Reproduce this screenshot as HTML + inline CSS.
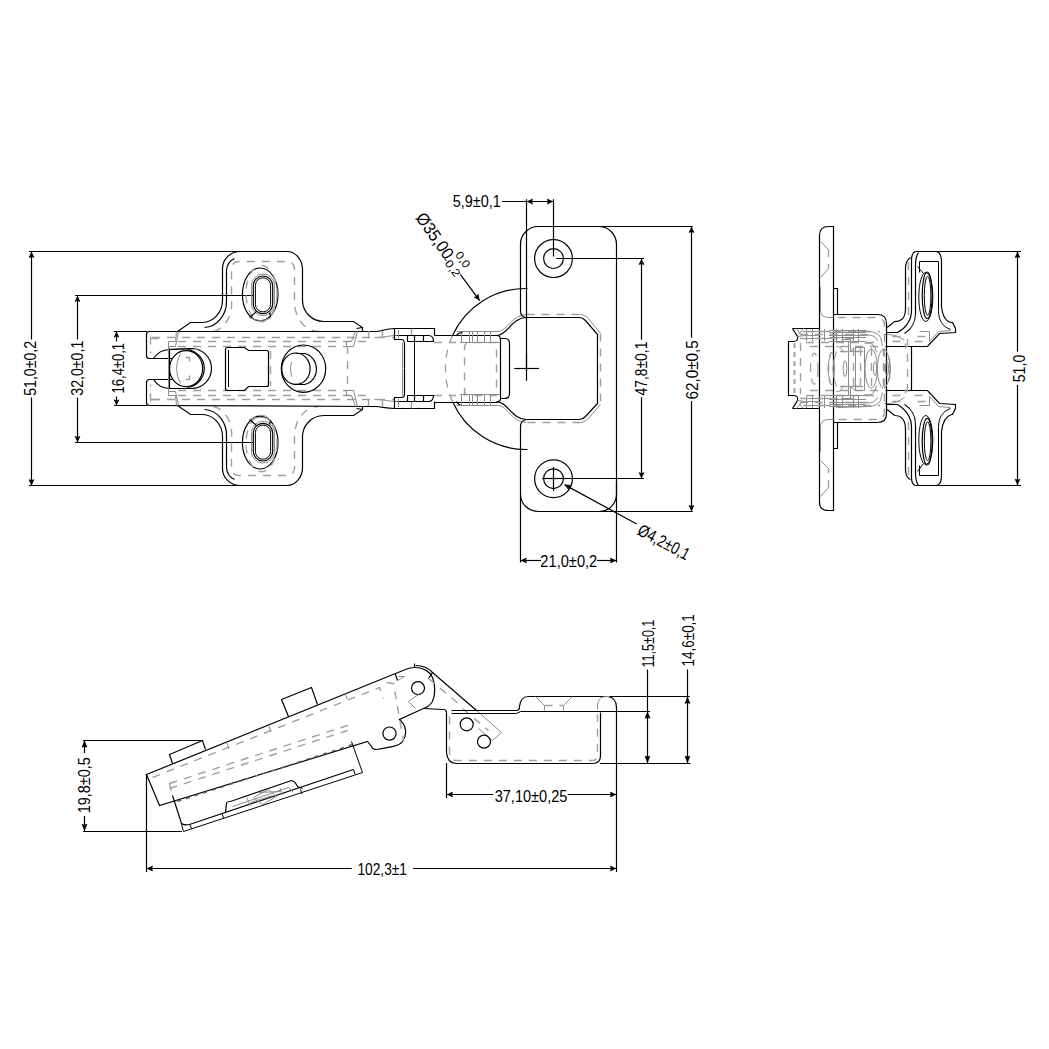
<!DOCTYPE html>
<html><head><meta charset="utf-8"><style>
html,body{margin:0;padding:0;background:#fff;overflow:hidden;}
svg{display:block;}
.d,.k{stroke:#000;stroke-width:1.2;fill:none;}
.k2{stroke:#000;stroke-width:1;fill:none;}
.g{stroke:#a0a0a0;stroke-width:1.4;fill:none;stroke-dasharray:8 7;}
.gs{stroke:#8c8c8c;stroke-width:1;fill:none;}
.ar{fill:#000;stroke:#000;stroke-width:0.7;stroke-linejoin:miter;}
.gd{stroke:#666;stroke-width:1.4;fill:none;stroke-dasharray:4 5;}
.gt{stroke:#aaa;stroke-width:2.2;fill:none;stroke-dasharray:5 4;}
.gsl{stroke:#bbb;stroke-width:1;fill:none;}
text{font-family:"Liberation Sans",sans-serif;fill:#000;}
</style></head><body>
<svg width="1049" height="1049" viewBox="0 0 1049 1049">
<rect width="1049" height="1049" fill="#fff"/>
<line x1="29.0" y1="251.5" x2="240.0" y2="251.5" class="d"/>
<line x1="29.0" y1="485.5" x2="240.0" y2="485.5" class="d"/>
<line x1="31.5" y1="251.5" x2="31.5" y2="339.5" class="d"/>
<line x1="31.5" y1="397.5" x2="31.5" y2="485.7" class="d"/>
<path d="M31.5,252.5L33.9,257.5L31.5,256.6L29.1,257.5Z" class="ar"/>
<path d="M31.5,484.7L29.1,479.7L31.5,480.6L33.9,479.7Z" class="ar"/>
<g transform="translate(29.6,368.4) rotate(-90)"><text x="0" y="6.19" text-anchor="middle" textLength="54.9" lengthAdjust="spacingAndGlyphs" font-size="17.2">51,0±0,2</text></g>
<line x1="75.0" y1="295.5" x2="253.3" y2="295.5" class="d"/>
<line x1="75.0" y1="442.5" x2="253.3" y2="442.5" class="d"/>
<line x1="77.5" y1="295.3" x2="77.5" y2="339.5" class="d"/>
<line x1="77.5" y1="397.5" x2="77.5" y2="442.5" class="d"/>
<path d="M77.5,296.5L79.9,301.5L77.5,300.6L75.1,301.5Z" class="ar"/>
<path d="M77.5,441.5L75.1,436.5L77.5,437.4L79.9,436.5Z" class="ar"/>
<g transform="translate(76.9,368.2) rotate(-90)"><text x="0" y="6.19" text-anchor="middle" textLength="54.9" lengthAdjust="spacingAndGlyphs" font-size="17.2">32,0±0,1</text></g>
<line x1="114.0" y1="331.5" x2="147.0" y2="331.5" class="d"/>
<line x1="114.0" y1="405.5" x2="147.0" y2="405.5" class="d"/>
<line x1="116.5" y1="331.2" x2="116.5" y2="341.5" class="d"/>
<line x1="116.5" y1="396.5" x2="116.5" y2="405.5" class="d"/>
<path d="M116.5,332.5L118.8,337.1L116.5,336.2L114.2,337.1Z" class="ar"/>
<path d="M116.5,404.5L114.2,399.9L116.5,400.8L118.8,399.9Z" class="ar"/>
<g transform="translate(117.5,368.2) rotate(-90)"><text x="0" y="6.19" text-anchor="middle" textLength="50.4" lengthAdjust="spacingAndGlyphs" font-size="17.2">16,4±0,1</text></g>
<path d="M 177.5,331.5 L 190.5,322.5 L 202.5,322.5 A 20.40,22.40 0 0 0 222.5,300.5 L 222.5,268.5 A 17.60,17.00 0 0 1 240.5,251.5 L 286.5,251.5 A 15.50,18.00 0 0 1 302.5,269.5 L 302.5,300.5 A 21.20,21.30 0 0 0 323.5,321.5 L 353.5,321.5 L 362.5,327.5 L 362.5,331.5 M 356.5,328.5 L 362.5,327.5" class="k"/>
<path d="M 204.5,327.5 A 23.00,26.00 0 0 0 226.5,300.5 L 226.5,270.5 A 13.00,14.00 0 0 1 234.5,258.5" class="k"/>
<path d="M 213.5,331.5 A 22.00,28.00 0 0 0 231.5,300.5 L 231.5,268.5 A 7.00,7.00 0 0 1 238.5,261.5 L 287.5,261.5 A 7.00,7.00 0 0 1 294.5,268.5 L 294.5,300.5 A 24.00,30.00 0 0 0 318.5,331.5" class="g"/>
<ellipse cx="260.2" cy="294.4" rx="17.8" ry="26.4" class="k"/>
<ellipse cx="261.5" cy="293.5" rx="15.5" ry="28.2" class="g"/>
<rect x="253.3" y="276.0" width="19.4" height="37.7" rx="9.7" class="k"/>
<rect x="255.4" y="277.8" width="15.2" height="34.1" rx="7.6" class="k2"/>
<rect x="251.5" y="274.0" width="23" height="41.7" rx="11.5" class="gs"/>
<path d="M 256.5,311.5 L 249.5,317.5 M 269.5,312.5 L 270.5,316.5" class="k"/>
<path d="M 249.5,317.5 Q 260.5,323.5 271.5,317.5" class="gs"/>
<path d="M 177.5,405.5 L 190.5,414.5 L 202.5,414.5 A 20.40,22.40 0 0 1 222.5,437.5 L 222.5,468.5 A 17.60,17.00 0 0 0 240.5,485.5 L 286.5,485.5 A 15.50,18.00 0 0 0 302.5,467.5 L 302.5,436.5 A 21.20,21.30 0 0 1 323.5,415.5 L 353.5,415.5 L 362.5,409.5 L 362.5,406.5 M 356.5,408.5 L 362.5,409.5" class="k"/>
<path d="M 204.5,409.5 A 23.00,26.00 0 0 1 226.5,437.5 L 226.5,467.5 A 13.00,14.00 0 0 0 234.5,479.5" class="k"/>
<path d="M 213.5,406.5 A 22.00,28.00 0 0 1 231.5,437.5 L 231.5,469.5 A 7.00,7.00 0 0 0 238.5,475.5 L 287.5,475.5 A 7.00,7.00 0 0 0 294.5,468.5 L 294.5,437.5 A 24.00,30.00 0 0 1 318.5,406.5" class="g"/>
<ellipse cx="260.2" cy="442.6" rx="17.8" ry="26.4" class="k"/>
<ellipse cx="261.5" cy="443.5" rx="15.5" ry="28.2" class="g"/>
<rect x="253.3" y="423.3" width="19.4" height="37.7" rx="9.7" class="k"/>
<rect x="255.4" y="425.1" width="15.2" height="34.1" rx="7.6" class="k2"/>
<rect x="251.5" y="421.3" width="23" height="41.7" rx="11.5" class="gs"/>
<path d="M 256.5,425.5 L 249.5,419.5 M 269.5,424.5 L 270.5,420.5" class="k"/>
<path d="M 249.5,419.5 Q 260.5,414.5 271.5,420.5" class="gs"/>
<path d="M 394.5,328.5 C 385.5,328.5 381.5,331.5 375.5,331.5 L 149.5,331.5 Q 146.5,331.5 146.5,334.5 L 146.5,355.5 Q 146.5,358.5 149.5,358.5 L 172.5,358.5" class="k"/>
<path d="M 374.5,337.5 C 385.5,337.5 388.5,335.5 396.5,335.5" class="gs"/>
<path d="M 153.5,358.5 A 19.70,19.70 0 0 1 169.5,349.5 L 193.5,348.5" class="k"/>
<line x1="152.0" y1="337.5" x2="395.0" y2="337.5" class="g"/>
<line x1="178.0" y1="341.5" x2="372.0" y2="341.5" class="g"/>
<line x1="178.0" y1="346.5" x2="347.0" y2="346.5" class="g"/>
<path d="M 150.5,336.5 L 150.5,353.5 M 150.5,338.5 L 158.5,338.5" class="g"/>
<path d="M 176.5,331.5 L 175.5,341.5 L 168.5,341.5 L 168.5,346.5 L 175.5,346.5 L 178.5,331.5" class="gs"/>
<path d="M 346.5,341.5 L 346.5,346.5 L 353.5,346.5 L 357.5,331.5" class="gs"/>
<path d="M 346.5,341.5 L 351.5,341.5 L 355.5,331.5" class="gs"/>
<line x1="368.5" y1="331.0" x2="368.5" y2="338.0" class="g"/>
<line x1="382.5" y1="331.0" x2="382.5" y2="338.0" class="g"/>
<path d="M 394.5,408.5 C 385.5,408.5 381.5,406.5 375.5,406.5 L 149.5,405.5 Q 146.5,405.5 146.5,402.5 L 146.5,382.5 Q 146.5,379.5 149.5,379.5 L 172.5,379.5" class="k"/>
<path d="M 374.5,399.5 C 385.5,399.5 388.5,401.5 396.5,401.5" class="gs"/>
<path d="M 153.5,379.5 A 19.70,19.70 0 0 0 169.5,388.5 L 193.5,388.5" class="k"/>
<line x1="152.0" y1="399.5" x2="395.0" y2="399.5" class="g"/>
<line x1="178.0" y1="395.5" x2="372.0" y2="395.5" class="g"/>
<line x1="178.0" y1="390.5" x2="347.0" y2="390.5" class="g"/>
<path d="M 150.5,401.5 L 150.5,384.5 M 150.5,399.5 L 158.5,399.5" class="g"/>
<path d="M 176.5,405.5 L 175.5,395.5 L 168.5,395.5 L 168.5,391.5 L 175.5,391.5 L 178.5,405.5" class="gs"/>
<path d="M 346.5,395.5 L 346.5,390.5 L 353.5,390.5 L 357.5,406.5" class="gs"/>
<path d="M 346.5,395.5 L 351.5,395.5 L 355.5,406.5" class="gs"/>
<line x1="368.5" y1="406.0" x2="368.5" y2="399.0" class="g"/>
<line x1="382.5" y1="406.0" x2="382.5" y2="399.0" class="g"/>
<path d="M 169.5,349.5 L 191.5,348.5 A 19.85,19.85 0 0 1 191.5,388.5 L 169.5,388.5" class="k"/>
<path d="M 187.5,349.5 A 19.60,19.20 0 0 1 187.5,387.5" class="k"/>
<ellipse cx="186.1" cy="368.6" rx="16.6" ry="18.0" class="k"/>
<line x1="169.5" y1="348.3" x2="169.5" y2="389.0" class="k"/>
<path d="M 180.5,353.5 Q 172.5,368.5 180.5,383.5" class="gs"/>
<path d="M 185.5,357.5 L 189.5,357.5 L 189.5,364.5 M 185.5,379.5 L 189.5,379.5 L 189.5,372.5" class="g"/>
<line x1="168.5" y1="346.0" x2="168.5" y2="391.0" class="gs"/>
<path d="M 225.5,349.5 Q 225.5,347.5 227.5,347.5 L 244.5,347.5 L 248.5,350.5 L 266.5,350.5 Q 268.5,350.5 268.5,352.5 L 268.5,384.5 Q 268.5,386.5 266.5,386.5 L 248.5,386.5 L 244.5,390.5 L 227.5,390.5 Q 225.5,390.5 225.5,388.5 Z" class="k"/>
<line x1="228.5" y1="350.0" x2="228.5" y2="387.0" class="k2"/>
<line x1="270.5" y1="351.0" x2="270.5" y2="386.0" class="g"/>
<ellipse cx="303.5" cy="368.7" rx="22.2" ry="23.7" class="k"/>
<ellipse cx="295.9" cy="368.7" rx="14.2" ry="15.7" class="k"/>
<path d="M 295.5,353.5 L 304.5,353.5 A 14.20,15.70 0 0 1 304.5,384.5 L 295.5,384.5" class="k"/>
<path d="M 291.5,376.5 A 10.00,17.00 0 0 1 291.5,361.5" class="gs"/>
<line x1="347.5" y1="346.0" x2="347.5" y2="391.0" class="g"/>
<path d="M 394.5,328.5 L 434.5,328.5 L 434.5,335.5" class="k"/>
<path d="M 396.5,335.5 L 428.5,335.5 Q 433.5,335.5 433.5,341.5 L 407.5,341.5" class="k"/>
<line x1="407.5" y1="335.5" x2="407.5" y2="341.9" class="k"/>
<line x1="414.5" y1="335.5" x2="414.5" y2="341.9" class="k"/>
<line x1="423.5" y1="335.5" x2="423.5" y2="341.9" class="k"/>
<path d="M 394.5,328.5 L 394.5,339.5 L 401.5,339.5 Q 404.5,339.5 404.5,344.5 L 404.5,368.5" class="k"/>
<path d="M 402.5,342.5 L 402.5,368.5" class="gs"/>
<line x1="411.5" y1="328.6" x2="411.5" y2="335.0" class="g"/>
<line x1="398.5" y1="330.0" x2="398.5" y2="338.5" class="gs"/>
<path d="M 394.5,408.5 L 434.5,408.5 L 434.5,401.5" class="k"/>
<path d="M 396.5,401.5 L 428.5,401.5 Q 433.5,401.5 433.5,395.5 L 407.5,395.5" class="k"/>
<line x1="407.5" y1="401.5" x2="407.5" y2="395.1" class="k"/>
<line x1="414.5" y1="401.5" x2="414.5" y2="395.1" class="k"/>
<line x1="423.5" y1="401.5" x2="423.5" y2="395.1" class="k"/>
<path d="M 394.5,408.5 L 394.5,397.5 L 401.5,397.5 Q 404.5,397.5 404.5,393.5 L 404.5,368.5" class="k"/>
<path d="M 402.5,395.5 L 402.5,368.5" class="gs"/>
<line x1="411.5" y1="408.4" x2="411.5" y2="402.0" class="g"/>
<line x1="398.5" y1="407.0" x2="398.5" y2="398.5" class="gs"/>
<line x1="414.5" y1="341.9" x2="414.5" y2="395.3" class="k2"/>
<line x1="434.0" y1="342.5" x2="456.0" y2="342.5" class="g"/>
<line x1="434.0" y1="395.5" x2="456.0" y2="395.5" class="g"/>
<path d="M 434.5,335.5 L 496.5,335.5 Q 500.5,335.5 500.5,339.5 L 500.5,398.5 Q 500.5,401.5 496.5,402.5 L 434.5,402.5" class="k"/>
<path d="M 500.5,338.5 L 504.5,338.5 Q 509.5,338.5 509.5,343.5 L 509.5,393.5 Q 509.5,398.5 504.5,398.5 L 500.5,398.5" class="k"/>
<path d="M 464.5,395.5 L 464.5,347.5 Q 464.5,342.5 469.5,342.5 L 496.5,342.5 L 496.5,395.5 L 469.5,395.5 Q 464.5,395.5 464.5,390.5" class="g"/>
<line x1="461.5" y1="331.4" x2="461.5" y2="342.4" class="gs"/>
<line x1="461.5" y1="405.6" x2="461.5" y2="394.6" class="gs"/>
<line x1="469.5" y1="331.4" x2="469.5" y2="342.4" class="gs"/>
<line x1="469.5" y1="405.6" x2="469.5" y2="394.6" class="gs"/>
<line x1="472.5" y1="331.4" x2="472.5" y2="342.4" class="gs"/>
<line x1="472.5" y1="405.6" x2="472.5" y2="394.6" class="gs"/>
<line x1="477.5" y1="331.4" x2="477.5" y2="342.4" class="gs"/>
<line x1="477.5" y1="405.6" x2="477.5" y2="394.6" class="gs"/>
<line x1="484.5" y1="331.4" x2="484.5" y2="342.4" class="gs"/>
<line x1="484.5" y1="405.6" x2="484.5" y2="394.6" class="gs"/>
<line x1="490.5" y1="331.4" x2="490.5" y2="342.4" class="gs"/>
<line x1="490.5" y1="405.6" x2="490.5" y2="394.6" class="gs"/>
<line x1="460.0" y1="342.5" x2="500.0" y2="342.5" class="gs"/>
<line x1="460.0" y1="394.5" x2="500.0" y2="394.5" class="gs"/>
<path d="M 527.5,288.5 A 80.50,80.50 0 0 0 452.5,335.5" class="k"/>
<path d="M 527.5,449.5 A 80.50,80.50 0 0 1 452.5,401.5" class="k"/>
<path d="M 452.5,335.5 A 80.50,80.50 0 0 0 452.5,401.5" class="g"/>
<path d="M 456.5,335.5 Q 458.5,332.5 462.5,332.5" class="k"/>
<path d="M 496.5,335.5 C 507.5,335.5 511.5,317.5 526.5,317.5" class="k"/>
<path d="M 456.5,331.5 L 498.5,331.5 C 506.5,331.5 512.5,314.5 526.5,314.5" class="gs"/>
<path d="M 456.5,401.5 Q 458.5,405.5 462.5,405.5" class="k"/>
<path d="M 496.5,401.5 C 507.5,401.5 511.5,419.5 526.5,419.5" class="k"/>
<path d="M 456.5,405.5 L 498.5,405.5 C 506.5,405.5 512.5,422.5 526.5,422.5" class="gs"/>
<path d="M 526.5,317.5 Q 520.5,317.5 520.5,310.5 L 520.5,244.5 A 18.00,17.80 0 0 1 538.5,226.5 L 599.5,226.5 A 17.70,18.00 0 0 1 616.5,244.5 L 616.5,494.5 A 17.00,17.50 0 0 1 599.5,511.5 L 538.5,511.5 A 18.00,17.00 0 0 1 520.5,494.5 L 520.5,426.5 Q 520.5,420.5 526.5,419.5" class="k"/>
<path d="M 526.5,317.5 L 579.5,317.5 Q 582.5,317.5 585.5,320.5 L 597.5,334.5 L 597.5,403.5 L 585.5,416.5 Q 582.5,419.5 579.5,419.5 L 526.5,419.5" class="k"/>
<path d="M 526.5,314.5 L 580.5,314.5 M 600.5,333.5 L 600.5,404.5 M 580.5,422.5 L 526.5,422.5" class="g"/>
<path d="M 580.5,314.5 Q 584.5,314.5 587.5,317.5 L 600.5,333.5 M 600.5,404.5 L 587.5,419.5 Q 584.5,422.5 580.5,422.5" class="gs"/>
<circle cx="553.5" cy="258.6" r="18.9" class="k"/>
<circle cx="553.5" cy="258.6" r="9.9" class="k"/>
<circle cx="553.5" cy="478.7" r="18.9" class="k"/>
<circle cx="553.5" cy="478.7" r="9.9" class="k"/>
<line x1="542.1" y1="478.5" x2="566.0" y2="478.5" class="d"/>
<line x1="553.5" y1="467.0" x2="553.5" y2="490.8" class="d"/>
<line x1="514.3" y1="368.5" x2="539.0" y2="368.5" class="d"/>
<line x1="526.5" y1="355.0" x2="526.5" y2="380.8" class="d"/>
<line x1="502.0" y1="201.5" x2="553.4" y2="201.5" class="d"/>
<path d="M527.5,201.5L532.5,199.1L531.6,201.5L532.5,203.9Z" class="ar"/>
<path d="M552.4,201.5L547.4,203.9L548.3,201.5L547.4,199.1Z" class="ar"/>
<line x1="526.5" y1="199.2" x2="526.5" y2="368.4" class="d"/>
<line x1="553.5" y1="199.2" x2="553.5" y2="256.5" class="d"/>
<g transform="translate(476.7,200.6) rotate(0)"><text x="0" y="6.19" text-anchor="middle" textLength="48.0" lengthAdjust="spacingAndGlyphs" font-size="17.2">5,9±0,1</text></g>
<line x1="589.0" y1="226.5" x2="692.9" y2="226.5" class="d"/>
<line x1="590.0" y1="511.5" x2="692.8" y2="511.5" class="d"/>
<line x1="691.5" y1="226.4" x2="691.5" y2="337.6" class="d"/>
<line x1="691.5" y1="401.0" x2="691.5" y2="511.5" class="d"/>
<path d="M691.5,227.4L693.9,232.4L691.5,231.5L689.1,232.4Z" class="ar"/>
<path d="M691.5,510.5L689.1,505.5L691.5,506.4L693.9,505.5Z" class="ar"/>
<g transform="translate(691.8,369.8) rotate(-90)"><text x="0" y="6.19" text-anchor="middle" textLength="59.2" lengthAdjust="spacingAndGlyphs" font-size="17.2">62,0±0,5</text></g>
<line x1="556.4" y1="258.5" x2="644.0" y2="258.5" class="d"/>
<line x1="556.0" y1="478.5" x2="644.0" y2="478.5" class="d"/>
<line x1="641.5" y1="258.5" x2="641.5" y2="339.8" class="d"/>
<line x1="641.5" y1="397.2" x2="641.5" y2="478.7" class="d"/>
<path d="M641.5,259.5L643.9,264.5L641.5,263.6L639.1,264.5Z" class="ar"/>
<path d="M641.5,477.7L639.1,472.7L641.5,473.6L643.9,472.7Z" class="ar"/>
<g transform="translate(641.0,368.6) rotate(-90)"><text x="0" y="6.19" text-anchor="middle" textLength="53.9" lengthAdjust="spacingAndGlyphs" font-size="17.2">47,8±0,1</text></g>
<line x1="520.5" y1="494.5" x2="520.5" y2="562.5" class="d"/>
<line x1="616.5" y1="482.0" x2="616.5" y2="562.5" class="d"/>
<line x1="520.4" y1="560.5" x2="541.0" y2="560.5" class="d"/>
<line x1="597.0" y1="560.5" x2="616.4" y2="560.5" class="d"/>
<path d="M521.4,560.5L526.4,558.1L525.5,560.5L526.4,562.9Z" class="ar"/>
<path d="M615.4,560.5L610.4,562.9L611.3,560.5L610.4,558.1Z" class="ar"/>
<g transform="translate(568.8,560.5) rotate(0)"><text x="0" y="6.19" text-anchor="middle" textLength="56.9" lengthAdjust="spacingAndGlyphs" font-size="17.2">21,0±0,2</text></g>
<line x1="564.4" y1="484.6" x2="636.7" y2="524.0" class="d"/>
<path d="M565.3,485.1L570.8,485.4L568.9,487.0L568.5,489.6Z" class="ar"/>
<g transform="translate(664.0,541.8) rotate(28)"><text x="0" y="6.19" text-anchor="middle" textLength="56.4" lengthAdjust="spacingAndGlyphs" font-size="17.2">Ø4,2±0,1</text></g>
<line x1="460.3" y1="274.4" x2="479.7" y2="300.6" class="d"/>
<path d="M479.1,299.8L474.2,297.2L476.7,296.5L478.1,294.3Z" class="ar"/>
<g transform="translate(435.2,235.6) rotate(55)"><text x="0" y="6.19" text-anchor="middle" textLength="52.4" lengthAdjust="spacingAndGlyphs" font-size="17.2">Ø35,00</text></g>
<g transform="translate(463.0,259.5) rotate(54)"><text x="0" y="3.96" text-anchor="middle" textLength="17.5" lengthAdjust="spacingAndGlyphs" font-size="11">0,0</text></g>
<g transform="translate(451.5,266.5) rotate(54)"><text x="0" y="3.96" text-anchor="middle" textLength="22.5" lengthAdjust="spacingAndGlyphs" font-size="11">-0,2</text></g>
<path d="M 833.5,226.5 L 828.5,226.5 Q 819.5,226.5 819.5,235.5 L 819.5,502.5 Q 819.5,510.5 828.5,510.5 L 833.5,510.5 Z" class="k"/>
<path d="M 833.5,288.5 L 837.5,288.5 L 837.5,314.5" class="k"/>
<path d="M 820.5,241.5 L 828.5,249.5 M 828.5,268.5 L 820.5,277.5" class="gs"/>
<line x1="828.5" y1="249.1" x2="828.5" y2="268.3" class="g"/>
<path d="M 820.5,286.5 L 820.5,311.5 Q 821.5,317.5 828.5,317.5 L 833.5,317.5" class="gs"/>
<path d="M 792.5,328.5 L 819.5,328.5 M 792.5,328.5 L 797.5,336.5 Q 798.5,341.5 793.5,341.5 L 788.5,341.5" class="k"/>
<path d="M 797.5,336.5 L 804.5,335.5 L 819.5,335.5" class="gs"/>
<path d="M 805.5,331.5 L 829.5,331.5 M 803.5,338.5 L 829.5,338.5" class="gs"/>
<line x1="806.5" y1="329.0" x2="806.5" y2="341.0" class="gs"/>
<line x1="812.5" y1="329.0" x2="812.5" y2="341.0" class="gs"/>
<line x1="824.5" y1="329.0" x2="824.5" y2="341.0" class="gs"/>
<path d="M 796.5,328.5 L 801.5,335.5 M 803.5,328.5 L 798.5,334.5" class="gs"/>
<line x1="803.0" y1="331.5" x2="880.0" y2="331.5" class="g"/>
<line x1="800.0" y1="334.5" x2="870.0" y2="334.5" class="g"/>
<line x1="800.0" y1="338.5" x2="860.0" y2="338.5" class="g"/>
<line x1="806.0" y1="342.5" x2="880.0" y2="342.5" class="g"/>
<line x1="810.0" y1="346.5" x2="890.0" y2="346.5" class="g"/>
<line x1="840.0" y1="351.5" x2="870.0" y2="351.5" class="g"/>
<path d="M 837.5,330.5 L 868.5,331.5 Q 877.5,331.5 880.5,337.5 L 882.5,345.5" class="gs"/>
<path d="M 841.5,339.5 L 850.5,339.5 L 850.5,351.5 L 858.5,351.5" class="gs"/>
<path d="M 864.5,343.5 Q 874.5,340.5 876.5,352.5" class="gs"/>
<path d="M 884.5,334.5 Q 895.5,333.5 904.5,340.5" class="gs"/>
<path d="M 915.5,251.5 L 936.5,251.5 Q 941.5,252.5 941.5,262.5 L 941.5,306.5 C 942.5,316.5 945.5,321.5 951.5,322.5 L 952.5,322.5 L 955.5,328.5 L 955.5,332.5 L 939.5,333.5 L 927.5,346.5 L 886.5,346.5" class="k"/>
<path d="M 915.5,251.5 Q 911.5,252.5 911.5,260.5 L 911.5,310.5 C 911.5,320.5 905.5,328.5 897.5,332.5 L 886.5,332.5" class="k"/>
<path d="M 918.5,252.5 Q 915.5,256.5 915.5,265.5 L 915.5,312.5 C 915.5,322.5 912.5,328.5 904.5,333.5" class="k"/>
<path d="M 910.5,257.5 Q 905.5,260.5 905.5,268.5 L 905.5,308.5 C 905.5,318.5 901.5,321.5 894.5,321.5 L 888.5,326.5 L 886.5,327.5" class="k"/>
<path d="M 919.5,272.5 L 919.5,261.5 L 938.5,261.5 L 938.5,310.5 C 938.5,320.5 942.5,326.5 950.5,329.5" class="k2"/>
<ellipse cx="927.2" cy="295.3" rx="5.0" ry="23.3" class="k"/>
<ellipse cx="927.6" cy="295.8" rx="3.3" ry="19.5" class="k2"/>
<ellipse cx="925.8" cy="297.0" rx="7.0" ry="24.5" class="k2"/>
<path d="M 917.5,266.5 L 923.5,273.5" class="k2"/>
<line x1="908.5" y1="262.0" x2="908.5" y2="318.0" class="g"/>
<path d="M 919.5,331.5 L 929.5,331.5 L 929.5,341.5 M 929.5,341.5 L 938.5,331.5 L 950.5,330.5" class="gs"/>
<path d="M 892.5,336.5 L 905.5,336.5 M 892.5,341.5 L 905.5,341.5 L 905.5,348.5" class="g"/>
<path d="M 917.5,336.5 L 928.5,336.5 M 914.5,341.5 L 925.5,341.5" class="g"/>
<path d="M 833.5,448.5 L 837.5,448.5 L 837.5,422.5" class="k"/>
<path d="M 820.5,496.5 L 828.5,487.5 M 828.5,468.5 L 820.5,460.5" class="gs"/>
<line x1="828.5" y1="487.9" x2="828.5" y2="468.7" class="g"/>
<path d="M 820.5,451.5 L 820.5,425.5 Q 821.5,419.5 828.5,419.5 L 833.5,419.5" class="gs"/>
<path d="M 792.5,408.5 L 819.5,408.5 M 792.5,408.5 L 797.5,400.5 Q 798.5,395.5 793.5,395.5 L 788.5,395.5" class="k"/>
<path d="M 797.5,400.5 L 804.5,401.5 L 819.5,401.5" class="gs"/>
<path d="M 805.5,405.5 L 829.5,405.5 M 803.5,398.5 L 829.5,398.5" class="gs"/>
<line x1="806.5" y1="408.0" x2="806.5" y2="396.0" class="gs"/>
<line x1="812.5" y1="408.0" x2="812.5" y2="396.0" class="gs"/>
<line x1="824.5" y1="408.0" x2="824.5" y2="396.0" class="gs"/>
<path d="M 796.5,408.5 L 801.5,402.5 M 803.5,408.5 L 798.5,403.5" class="gs"/>
<line x1="803.0" y1="405.5" x2="880.0" y2="405.5" class="g"/>
<line x1="800.0" y1="402.5" x2="870.0" y2="402.5" class="g"/>
<line x1="800.0" y1="398.5" x2="860.0" y2="398.5" class="g"/>
<line x1="806.0" y1="395.5" x2="880.0" y2="395.5" class="g"/>
<line x1="810.0" y1="390.5" x2="890.0" y2="390.5" class="g"/>
<line x1="840.0" y1="386.5" x2="870.0" y2="386.5" class="g"/>
<path d="M 837.5,407.5 L 868.5,406.5 Q 877.5,406.5 880.5,400.5 L 882.5,392.5" class="gs"/>
<path d="M 841.5,398.5 L 850.5,398.5 L 850.5,386.5 L 858.5,386.5" class="gs"/>
<path d="M 864.5,394.5 Q 874.5,397.5 876.5,385.5" class="gs"/>
<path d="M 884.5,403.5 Q 895.5,404.5 904.5,397.5" class="gs"/>
<path d="M 915.5,485.5 L 936.5,485.5 Q 941.5,484.5 941.5,475.5 L 941.5,431.5 C 942.5,421.5 945.5,416.5 951.5,414.5 L 952.5,414.5 L 955.5,408.5 L 955.5,404.5 L 939.5,403.5 L 927.5,390.5 L 886.5,390.5" class="k"/>
<path d="M 915.5,485.5 Q 911.5,484.5 911.5,477.5 L 911.5,427.5 C 911.5,417.5 905.5,409.5 897.5,404.5 L 886.5,404.5" class="k"/>
<path d="M 918.5,485.5 Q 915.5,481.5 915.5,472.5 L 915.5,425.5 C 915.5,415.5 912.5,409.5 904.5,404.5" class="k"/>
<path d="M 910.5,479.5 Q 905.5,477.5 905.5,469.5 L 905.5,429.5 C 905.5,419.5 901.5,415.5 894.5,415.5 L 888.5,410.5 L 886.5,409.5" class="k"/>
<path d="M 919.5,465.5 L 919.5,475.5 L 938.5,475.5 L 938.5,427.5 C 938.5,417.5 942.5,411.5 950.5,408.5" class="k2"/>
<ellipse cx="927.2" cy="441.7" rx="5.0" ry="23.3" class="k"/>
<ellipse cx="927.6" cy="441.2" rx="3.3" ry="19.5" class="k2"/>
<ellipse cx="925.8" cy="440.0" rx="7.0" ry="24.5" class="k2"/>
<path d="M 917.5,471.5 L 923.5,463.5" class="k2"/>
<line x1="908.5" y1="475.0" x2="908.5" y2="419.0" class="g"/>
<path d="M 919.5,405.5 L 929.5,405.5 L 929.5,396.5 M 929.5,396.5 L 938.5,406.5 L 950.5,407.5" class="gs"/>
<path d="M 892.5,401.5 L 905.5,401.5 M 892.5,395.5 L 905.5,395.5 L 905.5,389.5" class="g"/>
<path d="M 917.5,401.5 L 928.5,401.5 M 914.5,395.5 L 925.5,395.5" class="g"/>
<path d="M 833.5,314.5 L 877.5,314.5 Q 886.5,314.5 886.5,323.5 L 886.5,413.5 Q 886.5,422.5 877.5,422.5 L 833.5,422.5" class="k"/>
<path d="M 837.5,317.5 L 876.5,317.5 Q 884.5,317.5 884.5,325.5 L 884.5,411.5 Q 884.5,419.5 876.5,419.5 L 837.5,419.5" class="g"/>
<line x1="911.5" y1="346.6" x2="911.5" y2="390.6" class="k"/>
<line x1="907.5" y1="339.0" x2="907.5" y2="398.0" class="g"/>
<line x1="788.5" y1="341.1" x2="788.5" y2="396.1" class="k"/>
<line x1="794.5" y1="343.0" x2="794.5" y2="394.0" class="gt"/>
<line x1="800.5" y1="343.0" x2="800.5" y2="394.0" class="g"/>
<line x1="829.0" y1="330.5" x2="866.0" y2="330.5" class="gs"/>
<line x1="829.0" y1="332.5" x2="866.0" y2="332.5" class="gs"/>
<line x1="829.0" y1="335.5" x2="866.0" y2="335.5" class="gs"/>
<line x1="829.0" y1="337.5" x2="866.0" y2="337.5" class="gs"/>
<line x1="829.0" y1="341.5" x2="866.0" y2="341.5" class="gs"/>
<line x1="836.5" y1="329.0" x2="836.5" y2="342.0" class="gs"/>
<line x1="842.5" y1="329.0" x2="842.5" y2="342.0" class="gs"/>
<line x1="853.5" y1="329.0" x2="853.5" y2="342.0" class="gs"/>
<line x1="858.5" y1="329.0" x2="858.5" y2="342.0" class="gs"/>
<path d="M 866.5,335.5 Q 873.5,333.5 877.5,340.5" class="gs"/>
<path d="M 848.5,341.5 L 848.5,352.5 L 855.5,347.5 L 864.5,347.5" class="gs"/>
<path d="M 836.5,346.5 Q 840.5,345.5 843.5,352.5" class="gs"/>
<line x1="829.0" y1="406.5" x2="866.0" y2="406.5" class="gs"/>
<line x1="829.0" y1="404.5" x2="866.0" y2="404.5" class="gs"/>
<line x1="829.0" y1="402.5" x2="866.0" y2="402.5" class="gs"/>
<line x1="829.0" y1="399.5" x2="866.0" y2="399.5" class="gs"/>
<line x1="829.0" y1="395.5" x2="866.0" y2="395.5" class="gs"/>
<line x1="836.5" y1="408.0" x2="836.5" y2="395.0" class="gs"/>
<line x1="842.5" y1="408.0" x2="842.5" y2="395.0" class="gs"/>
<line x1="853.5" y1="408.0" x2="853.5" y2="395.0" class="gs"/>
<line x1="858.5" y1="408.0" x2="858.5" y2="395.0" class="gs"/>
<path d="M 866.5,402.5 Q 873.5,404.5 877.5,397.5" class="gs"/>
<path d="M 848.5,395.5 L 848.5,385.5 L 855.5,390.5 L 864.5,390.5" class="gs"/>
<path d="M 836.5,391.5 Q 840.5,392.5 843.5,385.5" class="gs"/>
<path d="M 848.5,352.5 L 848.5,385.5 M 855.5,347.5 L 855.5,390.5 M 864.5,347.5 L 864.5,390.5" class="gs"/>
<ellipse cx="871.2" cy="368.6" rx="6.2" ry="19.5" class="gs"/>
<ellipse cx="883.6" cy="368.6" rx="6.2" ry="19.5" class="gs"/>
<line x1="853.5" y1="348.0" x2="853.5" y2="389.0" class="g"/>
<line x1="860.5" y1="348.0" x2="860.5" y2="389.0" class="g"/>
<line x1="871.5" y1="348.0" x2="871.5" y2="389.0" class="g"/>
<line x1="883.5" y1="348.0" x2="883.5" y2="389.0" class="g"/>
<path d="M 836.5,351.5 Q 829.5,368.5 836.5,386.5" class="gs"/>
<path d="M 830.5,355.5 Q 825.5,368.5 830.5,382.5" class="gs"/>
<ellipse cx="845.0" cy="368.6" rx="1.8" ry="8.0" class="gs"/>
<ellipse cx="875.0" cy="368.6" rx="1.5" ry="7.0" class="gs"/>
<ellipse cx="887.0" cy="368.6" rx="1.5" ry="7.0" class="gs"/>
<path d="M 889.5,357.5 Q 891.5,368.5 889.5,380.5" class="gs"/>
<ellipse cx="814.3" cy="368.6" rx="3.8" ry="15.5" class="g"/>
<ellipse cx="831.5" cy="368.6" rx="3.0" ry="16.0" class="g"/>
<line x1="916.0" y1="251.5" x2="1021.0" y2="251.5" class="d"/>
<line x1="917.0" y1="485.5" x2="1021.0" y2="485.5" class="d"/>
<line x1="1017.5" y1="251.5" x2="1017.5" y2="351.7" class="d"/>
<line x1="1017.5" y1="384.9" x2="1017.5" y2="485.2" class="d"/>
<path d="M1017.5,252.5L1019.9,257.5L1017.5,256.6L1015.1,257.5Z" class="ar"/>
<path d="M1017.5,484.2L1015.1,479.2L1017.5,480.1L1019.9,479.2Z" class="ar"/>
<g transform="translate(1018.4,368.5) rotate(-90)"><text x="0" y="6.19" text-anchor="middle" textLength="27.6" lengthAdjust="spacingAndGlyphs" font-size="17.2">51,0</text></g>
<line x1="83.0" y1="740.5" x2="203.0" y2="740.5" class="d"/>
<line x1="83.0" y1="831.5" x2="182.0" y2="831.5" class="d"/>
<line x1="84.5" y1="740.2" x2="84.5" y2="753.0" class="d"/>
<line x1="84.5" y1="816.0" x2="84.5" y2="831.3" class="d"/>
<path d="M84.5,741.2L86.9,747.2L84.5,746.3L82.1,747.2Z" class="ar"/>
<path d="M84.5,830.3L82.1,824.3L84.5,825.2L86.9,824.3Z" class="ar"/>
<g transform="translate(83.6,785.2) rotate(-90)"><text x="0" y="6.19" text-anchor="middle" textLength="56.2" lengthAdjust="spacingAndGlyphs" font-size="17.2">19,8±0,5</text></g>
<line x1="146.5" y1="774.0" x2="146.5" y2="872.0" class="d"/>
<line x1="616.5" y1="707.0" x2="616.5" y2="872.0" class="d"/>
<line x1="146.5" y1="868.5" x2="351.8" y2="868.5" class="d"/>
<line x1="413.1" y1="868.5" x2="616.4" y2="868.5" class="d"/>
<path d="M147.5,868.5L152.5,866.1L151.6,868.5L152.5,870.9Z" class="ar"/>
<path d="M615.4,868.5L610.4,870.9L611.3,868.5L610.4,866.1Z" class="ar"/>
<g transform="translate(382.2,868.5) rotate(0)"><text x="0" y="6.19" text-anchor="middle" textLength="49.5" lengthAdjust="spacingAndGlyphs" font-size="17.2">102,3±1</text></g>
<line x1="446.5" y1="763.0" x2="446.5" y2="798.0" class="d"/>
<line x1="446.5" y1="794.5" x2="493.2" y2="794.5" class="d"/>
<line x1="567.8" y1="794.5" x2="616.4" y2="794.5" class="d"/>
<path d="M447.5,794.5L452.5,792.1L451.6,794.5L452.5,796.9Z" class="ar"/>
<path d="M615.4,794.5L610.4,796.9L611.3,794.5L610.4,792.1Z" class="ar"/>
<g transform="translate(531.0,795.3) rotate(0)"><text x="0" y="6.19" text-anchor="middle" textLength="72.7" lengthAdjust="spacingAndGlyphs" font-size="17.2">37,10±0,25</text></g>
<line x1="576.0" y1="711.5" x2="650.0" y2="711.5" class="d"/>
<line x1="600.0" y1="763.5" x2="690.6" y2="763.5" class="d"/>
<line x1="600.0" y1="696.5" x2="689.8" y2="696.5" class="d"/>
<line x1="647.5" y1="669.5" x2="647.5" y2="763.2" class="d"/>
<line x1="687.5" y1="669.5" x2="687.5" y2="763.2" class="d"/>
<path d="M647.5,712.2L649.9,718.2L647.5,717.3L645.1,718.2Z" class="ar"/>
<path d="M647.5,762.2L645.1,756.2L647.5,757.1L649.9,756.2Z" class="ar"/>
<path d="M687.5,697.4L689.9,703.4L687.5,702.5L685.1,703.4Z" class="ar"/>
<path d="M687.5,762.2L685.1,756.2L687.5,757.1L689.9,756.2Z" class="ar"/>
<g transform="translate(648.0,643.6) rotate(-90)"><text x="0" y="6.19" text-anchor="middle" textLength="47.9" lengthAdjust="spacingAndGlyphs" font-size="17.2">11,5±0,1</text></g>
<g transform="translate(688.0,640.3) rotate(-90)"><text x="0" y="6.19" text-anchor="middle" textLength="52.2" lengthAdjust="spacingAndGlyphs" font-size="17.2">14,6±0,1</text></g>
<path d="M 146.5,774.5 L 395.5,673.5 L 405.5,669.5 Q 409.5,667.5 414.5,667.5 C 424.5,667.5 430.5,672.5 432.5,677.5 C 435.5,684.5 435.5,694.5 432.5,701.5 C 430.5,704.5 427.5,707.5 423.5,708.5 L 399.5,719.5 C 406.5,725.5 407.5,734.5 402.5,741.5 C 399.5,745.5 394.5,746.5 376.5,749.5 Q 372.5,749.5 371.5,746.5 L 367.5,741.5 L 159.5,805.5 Z" class="k"/>
<line x1="395.2" y1="673.6" x2="397.5" y2="680.5" class="k"/>
<path d="M 172.5,763.5 L 169.5,754.5 L 202.5,740.5 L 205.5,749.5" class="k"/>
<path d="M 288.5,716.5 L 281.5,699.5 L 311.5,687.5 L 317.5,704.5" class="k"/>
<circle cx="418.0" cy="688.1" r="6.5" class="k"/>
<circle cx="389.5" cy="733.6" r="6.6" class="k"/>
<path d="M 415.5,665.5 Q 426.5,665.5 432.5,672.5 L 428.5,678.5" class="k"/>
<path d="M 418.5,694.5 L 408.5,701.5 L 415.5,708.5 M 398.5,676.5 L 404.5,676.5 M 397.5,680.5 L 404.5,676.5" class="gs"/>
<path d="M 432.5,672.5 L 476.5,710.5" class="k"/>
<path d="M 476.5,710.5 L 501.5,732.5 L 492.5,740.5 L 478.5,728.5" class="gs"/>
<path d="M 414.5,663.5 L 414.5,667.5" class="k"/>
<path d="M 428.5,678.5 L 459.5,704.5 M 462.5,708.5 L 488.5,730.5" class="g"/>
<path d="M 423.5,708.5 L 443.5,709.5 Q 446.5,709.5 446.5,712.5" class="k"/>
<path d="M 152.5,777.5 L 379.5,687.5 L 383.5,698.5" class="g"/>
<path d="M 386.5,682.5 L 393.5,683.5 L 403.5,741.5" class="g"/>
<path d="M 169.5,783.5 L 347.5,725.5 L 350.5,732.5" class="g"/>
<path d="M 169.5,788.5 L 347.5,730.5" class="g"/>
<line x1="169.5" y1="783.0" x2="172.5" y2="797.0" class="g"/>
<path d="M 177.5,801.5 L 352.5,744.5" class="gd"/>
<line x1="226.9" y1="742.5" x2="228.6" y2="748.5" class="gs"/>
<line x1="268.9" y1="725.8" x2="270.7" y2="732.0" class="gs"/>
<line x1="345.0" y1="693.0" x2="347.0" y2="699.0" class="gs"/>
<path d="M 172.5,795.5 L 181.5,823.5 Q 183.5,825.5 189.5,824.5 L 353.5,769.5" class="k"/>
<path d="M 181.5,824.5 L 183.5,831.5 L 362.5,772.5 L 351.5,741.5" class="k2"/>
<line x1="189.8" y1="824.5" x2="191.7" y2="829.0" class="k2"/>
<line x1="353.5" y1="769.5" x2="355.0" y2="774.0" class="k2"/>
<path d="M 225.5,812.5 L 226.5,803.5 Q 226.5,801.5 230.5,801.5 L 291.5,780.5 Q 294.5,780.5 297.5,786.5 L 302.5,788.5" class="k"/>
<line x1="222.0" y1="813.5" x2="223.5" y2="818.0" class="k2"/>
<line x1="300.5" y1="789.5" x2="302.0" y2="794.0" class="k2"/>
<path d="M 232.5,806.5 L 288.5,787.5 L 293.5,792.5" class="gs"/>
<path d="M 253.5,797.5 L 268.5,789.5 L 276.5,796.5 L 262.5,804.5 Z M 258.5,792.5 L 280.5,791.5 M 250.5,802.5 L 272.5,795.5" class="gs"/>
<line x1="247.0" y1="797.5" x2="250.0" y2="806.0" class="gs"/>
<line x1="280.0" y1="788.0" x2="283.0" y2="795.0" class="gs"/>
<path d="M 446.5,712.5 L 446.5,752.5 Q 447.5,763.5 456.5,763.5 L 592.5,763.5 Q 600.5,763.5 600.5,755.5 L 600.5,712.5" class="k"/>
<path d="M 451.5,710.5 L 516.5,710.5 Q 519.5,710.5 519.5,706.5 Q 520.5,696.5 528.5,696.5 L 608.5,696.5" class="k"/>
<path d="M 607.5,696.5 Q 616.5,697.5 616.5,707.5" class="k"/>
<path d="M 451.5,713.5 L 516.5,713.5 L 520.5,711.5 L 600.5,711.5" class="k2"/>
<path d="M 576.5,711.5 L 616.5,711.5" class="k"/>
<path d="M 535.5,696.5 L 544.5,705.5 L 544.5,710.5 M 572.5,696.5 L 563.5,705.5 L 563.5,710.5" class="gs"/>
<line x1="544.5" y1="705.5" x2="563.1" y2="705.5" class="g"/>
<path d="M 597.5,709.5 L 597.5,704.5 Q 598.5,696.5 606.5,696.5 L 609.5,696.5" class="gs"/>
<path d="M 449.5,716.5 L 449.5,752.5 Q 449.5,760.5 457.5,760.5 L 592.5,760.5 Q 597.5,760.5 597.5,753.5 L 597.5,714.5" class="g"/>
<circle cx="466.7" cy="724.3" r="6.5" class="k"/>
<circle cx="484.0" cy="741.7" r="6.5" class="k"/>
</svg></body></html>
